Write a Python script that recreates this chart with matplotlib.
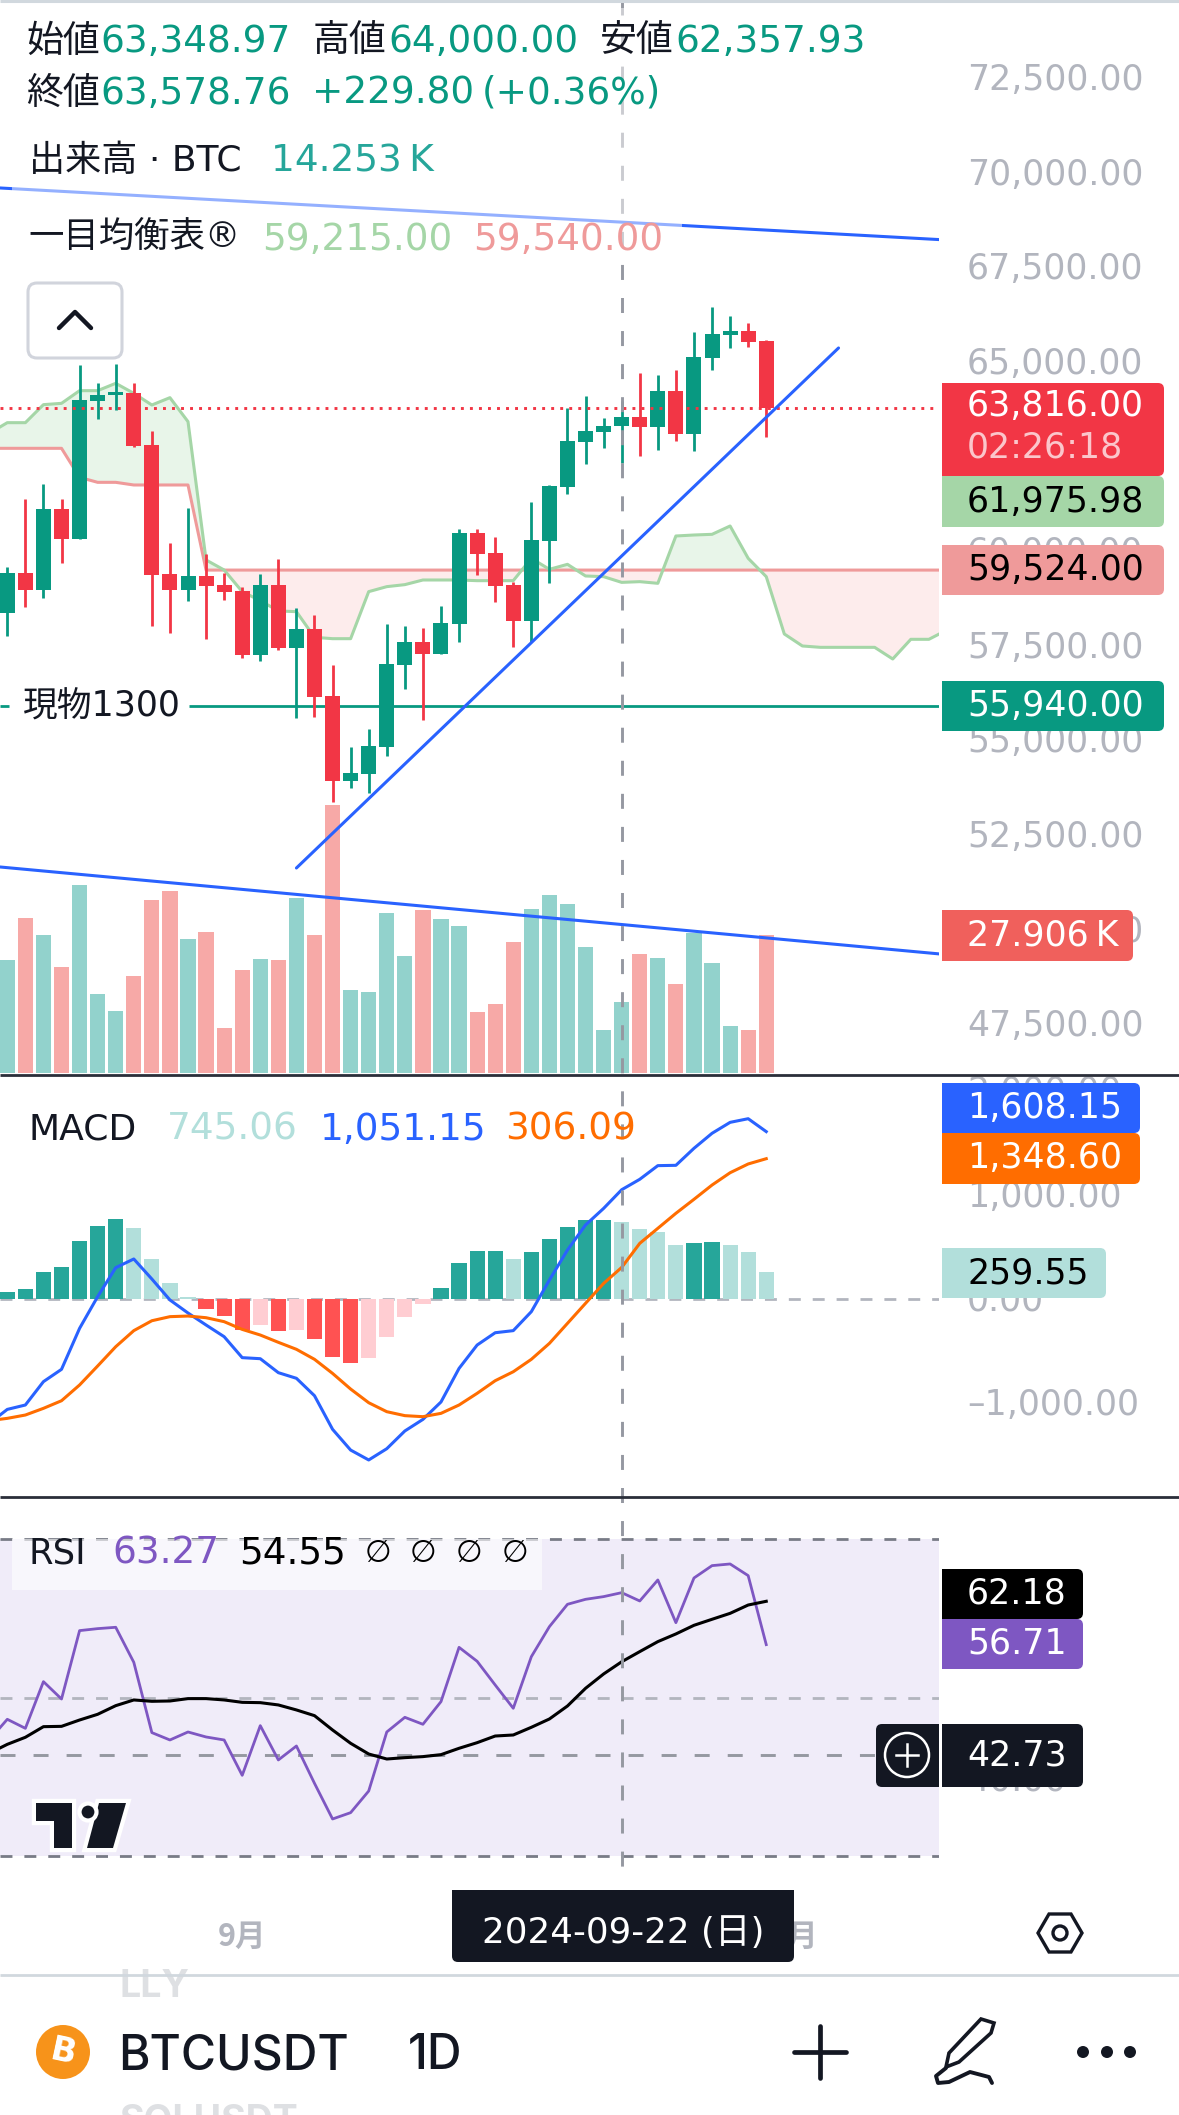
import numpy as np
import matplotlib
matplotlib.use("Agg")
import matplotlib.pyplot as plt
from matplotlib.patches import FancyBboxPatch, Rectangle, Circle, Polygon
from matplotlib.lines import Line2D
from matplotlib.transforms import blended_transform_factory, ScaledTranslation

plt.rcParams['lines.scale_dashes'] = False
plt.rcParams['font.family'] = ['DejaVu Sans', 'Noto Sans CJK JP']

# ---------- data ----------
opens = [58415,59454,59014,61155,60370,64009,64176,64212,62837,59437,59014,59384,59146,58987,57296,59146,57481,57983,56212,53966,54151,54864,57031,57639,57322,58124,60520,59992,59146,58194,60309,61736,62925,63190,63348.97,63586,63322,64273,63137,65145,65753,65859,65595]
highs = [59613,61410,61806,61410,64960,64476,64987,64476,63216,60247,61172,59956,59454,59084,59428,59824,58529,58344,57031,54855,55331,58106,58053,58001,58582,60617,60617,60414,59216,61331,61789,63815,64132,63560,64000,64749,64696,64828,65833,66493,66256,66071,65621]
lows = [57807,58573,58811,59736,60370,63533,63771,62802,58071,57886,58732,57727,58749,57225,57146,57437,55639,55666,53419,53789,53657,54626,56397,55578,57322,57648,59410,58697,57507,57631,59199,61551,62344,62767,62357.93,62555,62714,62952,62687,64828,65410,65436,63057]
closes = [59454,59014,61155,60370,64035,64168,64238,62828,59419,59014,59384,59119,58961,57296,59146,57481,57983,56194,53974,54177,54891,57058,57639,57322,58142,60520,59965,59119,58194,60335,61762,62952,63216,63348,63578.76,63322,64273,63137,65172,65780,65859,65568,63816]

cloud_a = [63154,63436,63436,63912,63947,64282,64282,64476,64212,63903,64097,63463,59807,59542,58970,58732,58459,58441,57763,57727,57727,58970,59102,59155,59278,59278,59278,59260,59260,59260,59851,59560,59692,59384,59366,59215,59234,59190,60441,60467,60485,60705,59851,59366,57851,57534,57498,57498,57498,57498,57190,57710,57710,57956]
cloud_b = [62758,62758,62758,62758,62758,61991,61859,61859,61789,61789,61789,61789,59540,59540,59540,59540,59540,59540,59540,59540,59540,59540,59540,59540,59540,59540,59540,59540,59540,59540,59540,59540,59540,59540,59540,59540,59540,59540,59540,59540,59540,59540,59540,59540,59540,59540,59540,59540,59540,59540,59540,59540,59540,59540]

volumes = [22849,31366,27919,21429,38059,15954,12506,19604,35017,36842,27108,28527,9058,20821,23052,22849,35422,27919,54283,16765,16359,32380,23660,32989,31164,29744,12303,13926,26499,33192,36031,34206,25485,8653,14253,24066,23254,17982,28324,22240,9464,8653,27906]

macd_hist = [70,99,262,310,559,703,770,684,387,157,22,-93,-160,-294,-246,-304,-294,-380,-553,-610,-562,-361,-169,-45,109,348,463,463,387,454,578,694,761,761,745.06,674,646,521,540,550,521,454,259.55]
macd_line = [-1189,-1055,-1013,-789,-671,-278,26,304,387,195,-6,-131,-246,-358,-559,-569,-703,-757,-924,-1246,-1445,-1540,-1432,-1262,-1151,-984,-662,-438,-320,-300,-118,185,473,713,872,1051.15,1151,1282,1285,1448,1592,1697,1732,1608.15]
macd_signal = [-1163,-1141,-1109,-1045,-972,-821,-639,-454,-300,-205,-166,-160,-176,-214,-288,-342,-412,-479,-575,-710,-860,-991,-1077,-1115,-1125,-1093,-1013,-901,-780,-694,-575,-422,-230,-38,153,306.09,537,681,825,959,1096,1214,1298,1348.6]

rsi = [44.68,47.29,46.15,52.04,49.85,58.48,58.73,58.90,54.48,45.61,44.68,45.69,45.06,44.68,40.22,46.49,42.16,43.92,39.21,34.71,35.51,38.24,45.69,47.54,46.66,49.52,56.37,54.61,51.62,48.68,55.19,58.98,61.80,62.43,62.77,63.27,62.22,64.87,59.48,65.12,66.68,66.89,65.42,56.71]
rsi_ma = [43.00,44.13,45.02,46.36,46.40,47.20,47.92,49.01,49.73,49.56,49.60,49.90,49.90,49.73,49.43,49.39,49.10,48.47,47.75,45.94,44.26,42.91,42.28,42.45,42.58,42.83,43.63,44.34,45.18,45.31,46.28,47.33,48.97,51.20,53.01,54.55,55.83,57.09,58.06,59.15,59.91,60.66,61.71,62.18]

price_ticks = [72500,70000,67500,65000,62500,60000,57500,55000,52500,50000,47500]
macd_ticks = [2000,1000,0,-1000]
rsi_ticks = [60,40]
rsi_levels = [70,50,30]
month_ticks = [13,43]
month_labels = ['9月','10月']
current_price = 63816
spot_level = 55940
crosshair_bar = 34
crosshair_rsi = 42.73
trend_a = ([-0.404,51.56],[69639,68275])
trend_b = ([-0.404,51.56],[51693,49396])
trend_c = ([16,46],[51666,65410])

# ---------- colours ----------
UP, DOWN = '#089981', '#F23645'
VOL_UP, VOL_DOWN = '#92D2CC', '#F7A9A7'
BLUE, ORANGE, PURPLE = '#2962FF', '#FF6D00', '#7E57C2'
ICHI_G, ICHI_R = '#A5D6A7', '#EF9A9A'
GREY, AXIS, INK = '#9598A1', '#B2B5BE', '#131722'

W, H = 1179, 2115
fig = plt.figure(figsize=(W/100, H/100), dpi=100, facecolor='white')
def pane(x0, x1, y0, y1, z):
    a = fig.add_axes([x0/W, 1-y1/H, (x1-x0)/W, (y1-y0)/H], zorder=z)
    a.patch.set_visible(False)
    for s in a.spines.values():
        s.set_visible(False)
    return a

XL = (-0.404, 51.56)
TICK_PAD = (967-939)*0.72
TICK_FS = 25
CJK = ['DejaVu Sans', 'Noto Sans CJK JP']

def style_y(a, ticks, labels, lift_px=0):
    a.set_yticks(ticks)
    a.set_yticklabels(labels, color=AXIS, fontsize=TICK_FS, ha='left', family='DejaVu Sans')
    a.tick_params(axis='y', left=False, right=False, labelleft=False, labelright=True, pad=TICK_PAD, length=0)
    a.set_xticks([])
    a.set_xlim(*XL)
    off = ScaledTranslation(0, lift_px/100, fig.dpi_scale_trans)
    for lab in a.get_yticklabels():
        lab.set_transform(lab.get_transform() + off)

bars = np.arange(len(opens))
line_x = np.arange(-1, len(opens))
cloud_x = np.arange(-1, len(cloud_a)-1)

# volume
av = pane(0, 939, 0, 1075, 1)
vol_col = [VOL_UP if c >= o else VOL_DOWN for o, c in zip(opens, closes)]
av.bar(bars, volumes, width=0.84, color=vol_col, linewidth=0)
av.set_xlim(*XL); av.set_ylim(-466, 217436)
av.set_xticks([]); av.set_yticks([])

# price
ax = pane(0, 939, 0, 1075, 2)
style_y(ax, price_ticks, [f'{t:,.2f}' for t in price_ticks], lift_px=3)
ax.set_ylim(46195, 74607)
A, B = np.array(cloud_a, float), np.array(cloud_b, float)
ax.fill_between(cloud_x, A, B, where=A >= B, interpolate=True, color='#E8F5E9', lw=0, zorder=1)
ax.fill_between(cloud_x, A, B, where=A < B, interpolate=True, color='#FDECEC', lw=0, zorder=1)
ax.plot(cloud_x, cloud_b, color=ICHI_R, lw=2.2, zorder=2)
ax.plot(cloud_x, cloud_a, color=ICHI_G, lw=2.2, zorder=2.1)
ax.plot([XL[0], 0.09], [spot_level]*2, color=UP, lw=2, zorder=2.5, solid_capstyle='butt')
ax.plot([10.05, XL[1]], [spot_level]*2, color=UP, lw=2, zorder=2.5, solid_capstyle='butt')
candle_col = [UP if c >= o else DOWN for o, c in zip(opens, closes)]
ax.vlines(bars, lows, highs, colors=candle_col, lw=2, zorder=3)
ax.bar(bars, np.abs(np.array(closes)-np.array(opens)), bottom=np.minimum(opens, closes),
       width=0.83, color=candle_col, linewidth=0, zorder=3.1)
ax.axhline(current_price, color=DOWN, lw=2.1, ls=(0, (2.1, 4.4)), zorder=4)
for tx, ty in (trend_a, trend_b, trend_c):
    ax.plot(tx, ty, color=BLUE, lw=2.2, zorder=5, solid_capstyle='round')

# MACD
am = pane(0, 939, 1075, 1497, 2)
style_y(am, macd_ticks, [f'{t:,.2f}'.replace('-', '\u2013') for t in macd_ticks], lift_px=2)
am.set_ylim(-1895, 2151)
am.axhline(0, color='#B2B5BE', lw=2, ls=(0, (8.6, 8.6)), zorder=1)
hist_col = []
for i, v in enumerate(macd_hist):
    prev = macd_hist[i-1] if i else 0
    if v >= 0:
        hist_col.append('#26A69A' if v >= prev else '#B2DFDB')
    else:
        hist_col.append('#FF5252' if v <= prev else '#FFCDD2')
am.bar(bars, macd_hist, width=0.84, color=hist_col, linewidth=0, zorder=2)
am.plot(line_x, macd_line, color=BLUE, lw=2.2, zorder=3)
am.plot(line_x, macd_signal, color=ORANGE, lw=2.2, zorder=3.1)

# RSI
ar = pane(0, 939, 1497, 1890, 2)
style_y(ar, rsi_ticks, [f'{t:.2f}' for t in rsi_ticks])
ar.set_ylim(25.75, 75.34)
ar.axhspan(rsi_levels[2], rsi_levels[0], color='#F0ECF9', lw=0, zorder=0)
for lv, c in zip(rsi_levels, ['#787B86', '#B2B5BE', '#787B86']):
    ar.axhline(lv, color=c, lw=2, ls=(0, (8.6, 8.6)), zorder=1)
ar.axhline(crosshair_rsi, color=GREY, lw=2.1, ls=(0, (10.8, 13)), zorder=1.5)
ar.plot(line_x, rsi, color=PURPLE, lw=2, zorder=2)
ar.plot(line_x, rsi_ma, color='black', lw=2.2, zorder=3)
ar.set_xticks(month_ticks)
ar.set_xticklabels(month_labels, color=AXIS, fontsize=22, fontweight='bold',
                   family=['Noto Sans CJK JP'])
ar.tick_params(axis='x', length=0, pad=22)

# crosshair through all panes
tr = blended_transform_factory(ax.transData, fig.transFigure)
fig.add_artist(Line2D([crosshair_bar]*2, [1, 1-1880/H], transform=tr, color=GREY, lw=2.1,
                      ls=(0, (10.8, 13)), zorder=3))

# ---------- screen furniture in pixel coordinates ----------
ui = fig.add_axes([0, 0, 1, 1], zorder=4)
ui.set_xlim(0, W); ui.set_ylim(H, 0); ui.axis('off')
ui.patch.set_visible(False)

def box(x0, y0, x1, y1, fc, r=6, ec='none', lw=0, alpha=None, z=2, square=None):
    ui.add_patch(FancyBboxPatch((x0, y0), x1-x0, y1-y0, boxstyle=f'round,pad=0,rounding_size={r}',
                                fc=fc, ec=ec, lw=lw, alpha=alpha, zorder=z))
    if square == 'left':
        ui.add_patch(Rectangle((x0, y0), 2*r, y1-y0, fc=fc, lw=0, zorder=z))
    elif square == 'right':
        ui.add_patch(Rectangle((x1-2*r, y0), 2*r, y1-y0, fc=fc, lw=0, zorder=z))
    elif square == 'top':
        ui.add_patch(Rectangle((x0, y0), x1-x0, 2*r, fc=fc, lw=0, zorder=z))

def txt(x, y, s, c=INK, fs=26.9, ha='left', fam=None, **kw):
    ui.text(x, y, s, color=c, fontsize=fs, ha=ha, va='center',
            family=fam or CJK, zorder=5, **kw)

# separators
for y, c, lw in [(1, '#D1D8DE', 2.2), (1075, '#2A2E39', 2), (1497, '#2A2E39', 2), (1975, '#D1D8DE', 2)]:
    ui.plot([0, W], [y, y], color=c, lw=lw, zorder=3, solid_capstyle='butt')

# legend veil
ui.add_patch(Rectangle((12, 8), 670, 252, fc='white', alpha=0.5, lw=0, zorder=1))
ui.add_patch(Rectangle((12, 1539), 530, 51, fc='white', alpha=0.6, lw=0, zorder=1))

JP = 26.6
FS = 26.9
txt(26, 41, '始値', fs=JP); txt(100, 41, '63,348.97', UP, FS)
txt(313, 41, '高値', fs=JP); txt(388, 41, '64,000.00', UP, FS)
txt(600, 41, '安値', fs=JP); txt(675, 41, '62,357.93', UP, FS)
txt(26, 93, '終値', fs=JP); txt(100, 93, '63,578.76', UP, FS)
txt(312, 93, '+229.80', UP, FS); txt(482, 93, '(+0.36%)', UP, FS)
txt(29, 161, '出来高 · BTC', fs=26)
txt(271, 161, '14.253\u2009K', '#26A69A', FS)
txt(28, 238, '一目均衡表®', fs=25.5)
txt(262, 239, '59,215.00', ICHI_G, FS); txt(473, 239, '59,540.00', ICHI_R, FS)

box(28, 283, 122, 358, 'white', r=9, ec='#D1D4DC', lw=2.2)
ui.plot([59, 75, 91], [328, 312, 328], color=INK, lw=3.2, solid_capstyle='round',
        solid_joinstyle='round', zorder=5)
txt(23, 707, '現物1300', fs=25)

# price badges
BX0, BX1, TX = 942, 1164, 967
BFS = TICK_FS
def badge(y0, y1, fc, label, tc, x1=BX1, ty=None):
    box(BX0, y0, x1, y1, fc, square='left')
    txt(TX, ty if ty else (y0+y1)/2, label, tc, BFS, fam=['DejaVu Sans'])
badge(383, 476, DOWN, '63,816.00', 'white', ty=406)
txt(TX, 448, '02:26:18', '#FBC6CB', BFS, fam=['DejaVu Sans'])
badge(476, 527, ICHI_G, '61,975.98', 'black')
badge(545, 595, ICHI_R, '59,524.00', 'black')
badge(681, 731, UP, '55,940.00', 'white')
badge(910, 961, '#F0605C', '27.906\u2009K', 'white', x1=1133)
badge(1083, 1133, BLUE, '1,608.15', 'white', x1=1140)
badge(1133, 1184, ORANGE, '1,348.60', 'white', x1=1140)
badge(1248, 1298, '#B2DFDB', '259.55', 'black', x1=1106)
badge(1569, 1619, 'black', '62.18', 'white', x1=1083)
badge(1619, 1669, PURPLE, '56.71', 'white', x1=1083)
badge(1724, 1787, INK, '42.73', 'white', x1=1083)
box(876, 1724, 939, 1787, INK, square='right')
ui.add_patch(Circle((907, 1755), 22, fc='none', ec='white', lw=1.8, zorder=5))
ui.plot([896, 918], [1755, 1755], color='white', lw=1.8, zorder=5)
ui.plot([907, 907], [1744, 1766], color='white', lw=1.8, zorder=5)

# pane legends
txt(29, 1129, 'MACD', fs=26)
txt(167, 1129, '745.06', '#B2DFDB', FS)
txt(320, 1129, '1,051.15', BLUE, FS)
txt(505, 1129, '306.09', ORANGE, FS)
txt(29, 1553, 'RSI', fs=25.5)
txt(112, 1553, '63.27', PURPLE, FS)
txt(239, 1553, '54.55', 'black', FS)
for x in (378, 423, 469, 515):
    txt(x, 1553, '∅', 'black', 22, ha='center', fam=['DejaVu Sans'])

# TradingView logo
logo = [
    [(36, 1803), (72, 1803), (72, 1848), (54, 1848), (54, 1821), (36, 1821)],
    [(99, 1803), (126, 1803), (113, 1848), (87, 1848)],
]
for pts in logo:
    ui.add_patch(Polygon(pts, closed=True, fc='#131722', ec='white', lw=6, zorder=3, joinstyle='miter'))
    ui.add_patch(Polygon(pts, closed=True, fc='#131722', ec='none', zorder=3.1))
ui.add_patch(Circle((88, 1812), 8.5, fc='#131722', ec='white', lw=3, zorder=3.2))

# date label
box(452, 1890, 794, 1962, INK, square='top')
txt(623, 1933, '2024-09-22 (日)', 'white', 25.7, ha='center')

# hexagon
hx, hy = 1060, 1933
ui.add_patch(Polygon([(hx-22, hy), (hx-11, hy-19), (hx+11, hy-19), (hx+22, hy), (hx+11, hy+19), (hx-11, hy+19)],
                     closed=True, fc='none', ec=INK, lw=2.4, zorder=5))
ui.add_patch(Circle((hx, hy), 7, fc='none', ec=INK, lw=2.4, zorder=5))

# bottom bar
clip_r = Rectangle((0, 1976), W, 139, transform=ui.transData)
t = ui.text(119, 1987, 'LLY', color='#DEE0E3', fontsize=27, fontweight='bold', va='center', family='Inter', zorder=1)
t.set_clip_path(clip_r)
ui.text(119, 2122, 'SOLUSDT', color='#DEE0E3', fontsize=27, fontweight='bold', va='center', family='Inter', zorder=1)
ui.add_patch(Circle((63, 2052), 27, fc='#F7931A', ec='none', zorder=5))
ui.text(63, 2052, 'B', color='white', fontsize=24, fontweight='bold', rotation=-12, ha='center', va='center',
        family='DejaVu Sans', zorder=6)
txt(118, 2056, 'BTCUSDT', INK, 34.6, fam=['Inter'], fontweight='medium')
txt(408, 2056, '1D', INK, 34.6, fam=['Inter'], fontweight='medium')
ui.plot([794, 846], [2052, 2052], color=INK, lw=3.4, solid_capstyle='round', zorder=5)
ui.plot([820, 820], [2026, 2078], color=INK, lw=3.4, solid_capstyle='round', zorder=5)
ui.add_patch(Polygon([(946, 2067), (949, 2053), (981, 2019), (994, 2023), (991, 2033), (959, 2062)],
                     closed=True, fc='none', ec=INK, lw=2.6, zorder=5))
ui.plot([946, 936, 938, 949, 970, 989, 992], [2068, 2076, 2083, 2082, 2072, 2077, 2083],
        color=INK, lw=2.8, solid_capstyle='round', zorder=5)
for x in (1083, 1107, 1130):
    ui.add_patch(Circle((x, 2052), 6, fc=INK, ec='none', zorder=5))

fig.savefig('out.png', dpi=100, facecolor='white')
